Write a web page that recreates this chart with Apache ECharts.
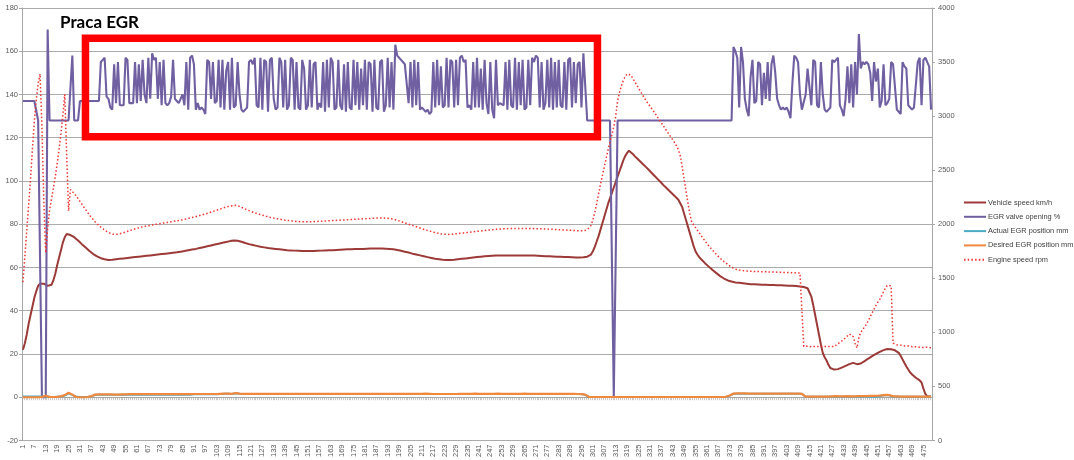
<!DOCTYPE html>
<html>
<head>
<meta charset="utf-8">
<script src="https://cdn.jsdelivr.net/npm/echarts@6.0.0/dist/echarts.min.js"></script>
<style>
html,body{margin:0;padding:0;background:#fff;}
#c{width:1074px;height:460px;}
</style>
</head>
<body>
<div id="c"></div>
<script>
// ---------------- DATA ----------------
const titleText = 'Praca EGR';
const seriesNames = ['Vehicle speed km/h', 'EGR valve opening %', 'Actual EGR position mm', 'Desired EGR position mm', 'Engine speed rpm'];
const sampleCount = 479;
const categories = Array.from({length: sampleCount}, (_, k) => String(k + 1));
const leftTicks = {min: -20, max: 180, step: 20};
const rightTicks = {min: 0, max: 4000, step: 500};

const vehicleSpeed = [
22,25,29,34,38,42,46,49,51.5,52.5,
52.5,52.5,52,51.5,51,52,
54,57,61,64.5,68,71.5,74,75.5,
75.3,75,74.6,74,73.3,72.5,71.7,70.8,70,69.2,68.4,67.6,66.9,66.2,65.6,65.1,64.7,64.3,64,63.8,63.6,63.5,63.5,
63.6,63.7,63.8,63.9,64.0,64.1,64.2,64.3,64.4,64.5,64.6,64.7,64.8,64.9,65.0,65.1,65.2,65.3,65.4,65.5,65.6,65.7,65.8,65.9,66.0,66.1,66.2,66.3,66.4,66.5,66.6,66.7,66.8,66.9,67.0,67.2,67.3,67.5,67.6,67.8,68.0,68.1,68.3,68.5,68.6,68.8,69.0,69.2,69.4,69.6,69.8,70.0,70.2,70.4,70.6,70.8,71.0,71.2,71.4,71.6,71.8,72.0,72.2,72.4,72.5,72.6,
72.4,72.2,71.9,71.6,71.3,71.0,70.8,70.6,70.4,70.2,70.0,69.8,69.6,69.5,69.3,69.2,69.0,68.9,68.8,68.7,68.6,68.5,68.4,68.3,68.2,68.1,68.0,68.0,67.9,67.8,67.8,67.7,67.7,67.6,67.6,67.6,67.6,67.6,67.6,67.6,67.6,67.7,67.7,67.7,
67.8,67.8,67.9,67.9,68.0,68.0,68.0,68.1,68.1,68.2,68.2,68.2,68.3,68.3,68.4,68.4,68.4,68.5,68.5,68.5,68.6,68.6,68.6,68.7,68.7,68.7,68.8,68.8,68.8,68.8,68.8,68.8,68.8,68.8,68.7,68.7,68.6,68.5,68.4,68.3,68.1,67.9,67.7,
67.5,67.3,67.1,66.9,66.6,66.4,66.2,66.0,65.8,65.6,65.4,65.2,65.0,64.8,64.6,64.4,64.2,64.0,63.9,63.8,63.7,63.6,63.5,63.5,63.5,63.5,
63.6,63.6,63.7,63.8,63.9,64.0,64.1,64.2,64.3,64.4,64.5,64.6,64.7,64.8,64.9,65.0,65.1,65.2,65.3,65.3,65.4,65.4,65.5,65.5,65.5,65.5,65.5,65.5,65.5,
65.5,65.5,65.5,65.5,65.5,65.5,65.5,65.5,65.5,65.5,65.5,65.5,65.5,65.5,65.5,
65.4,65.4,65.3,65.3,65.3,65.2,65.2,65.2,65.1,65.1,65.1,65.0,65.0,65.0,65.0,
64.9,64.9,64.8,64.8,64.7,64.7,64.6,64.6,64.6,64.6,64.7,64.8,65.0,65.3,
66.0,67.5,69.5,72.0,74.5,77.5,80.5,83.5,86.5,89.5,92.0,94.5,97.0,99.5,102.0,104.5,107.0,109.5,111.5,113.0,114.0,
113.5,112.5,111.5,110.6,109.8,109.0,108.1,107.2,106.4,105.5,104.6,103.7,102.8,101.9,101.0,100.1,99.2,98.2,97.4,96.5,95.7,94.8,94.0,93.1,92.2,91.3,90.5,88.0,85.0,82.0,
79.0,76.0,73.0,70.0,67.5,66.0,
64.8,63.8,62.9,62.0,61.2,60.4,59.6,58.8,58.1,57.4,56.7,56.0,55.4,54.9,54.4,54.0,53.7,53.5,53.3,
53.1,53.0,52.9,52.8,52.7,52.6,52.5,52.4,52.3,52.2,52.2,52.1,52.1,52.0,52.0,52.0,52.0,52.0,51.9,51.9,51.9,51.9,51.8,51.8,51.8,51.7,51.7,51.7,51.6,51.6,51.5,51.5,51.4,51.3,51.2,51.1,51.0,50.8,50.4,49.5,
46.5,42.5,38.0,33.5,29.0,24.5,20.5,18.5,17.0,15.0,13.5,13.0,12.8,12.8,13.0,13.3,
13.7,14.1,14.5,14.9,15.3,15.7,15.9,15.6,15.3,15.3,15.6,16.1,16.7,17.3,17.9,18.5,19.0,19.5,20.0,20.5,21.0,21.4,21.8,22.1,22.3,22.3,22.2,22.0,21.7,21.2,20.5,19.2,17.5,15.8,14.2,12.8,11.5,10.5,9.7,9.0,8.4,7.8,6.8,4.0,1.5,0.5,0.3,0.3
];

const egrValve = [
137,137,137,137,137,137,137,137,128,128,0,0,0,170,
128,128,128,128,128,128,128,128,128,128,128,128,
158,128,128,128,
137,137,137,137,137,137,137,137,137,137,
137,155,156,157,139,138,134,133,154,136,155,135,135,135,157,156,136,136,136,155,
136,154,137,156,140,136,157,138,159,156,157,138,155,135,156,136,135,136,139,156,
138,137,136,138,140,135,155,133,157,158,154,133,136,133,134,133,131,156,155,138,
155,136,137,156,134,156,133,151,155,133,157,134,135,155,140,133,132,133,134,155,
156,154,157,135,134,157,133,156,155,132,156,157,138,133,134,157,155,134,156,133,
135,157,156,133,155,134,133,156,152,133,135,156,134,154,155,133,136,134,155,132,
156,134,157,155,133,134,156,135,133,154,132,155,134,133,156,135,155,133,152,135,
156,133,155,154,132,156,134,133,155,156,132,135,157,134,155,133,163,158,157,156,
155,154,154,136,155,134,156,135,155,133,134,133,132,133,131,132,155,134,156,135,
153,134,135,157,134,156,155,134,156,135,157,158,155,156,134,135,133,155,134,157,
134,152,133,156,136,131,155,133,129,156,135,136,136,135,155,133,156,135,134,157,
133,155,135,156,133,134,156,135,157,155,158,157,134,155,133,136,156,134,157,133,
155,134,156,135,134,155,133,156,157,134,155,136,154,155,134,159,159,
128,128,128,128,128,128,128,128,128,128,128,128,128,128,
0,0,
128,128,128,128,128,128,128,128,128,128,
128,128,128,128,128,128,128,128,128,128,
128,128,128,128,128,128,128,128,128,128,
128,128,128,128,128,128,128,128,128,128,
128,128,128,128,128,128,128,128,128,128,
128,128,128,128,128,128,128,128,128,128,
128,
162,160,157,134,162,155,138,133,130,148,156,136,137,155,154,135,150,138,155,137,
154,158,150,138,135,133,134,133,134,132,129,145,158,157,155,140,133,133,140,152,
152,135,156,155,135,134,155,140,133,132,133,134,156,155,156,157,135,133,130,138,
153,136,154,134,155,140,168,152,155,154,155,154,150,137,155,146,152,134,137,154,
135,136,138,155,154,154,133,132,131,155,153,152,135,134,133,134,134,155,157,135,
156,157,155,153,133
];

const actualEgr = [
0.3,0.3,0.3,0.3,0.3,0.3,0.3,0.3,0.3,0.3,0.3,
0.4,0.4,0.3,0.2,0.1,
0.1,0.1,0.2,0.2,0.3,0.5,0.8,1.3,
1.8,1.8,1.1,0.4,0.2,0.1,
0.1,0.1,0.1,0.1,0.1,0.2,0.4,
0.8,1.1,1.2,1.2,1.2,
1.2,1.2,1.2,1.2,1.2,1.2,1.2,1.2,1.2,1.2,1.2,1.2,1.2,1.2,1.2,1.2,1.2,1.2,1.2,1.2,1.2,1.2,1.2,1.2,
1.2,1.2,1.2,1.2,1.2,1.2,1.2,1.2,1.2,1.2,1.2,1.2,1.2,1.2,1.2,1.2,1.2,1.2,1.2,1.2,1.2,1.2,1.2,1.2,
1.4,1.4,1.4,1.4,1.4,1.4,1.4,1.4,1.4,1.4,1.4,1.4,1.4,1.4,
1.5,1.5,1.6,1.7,1.6,1.5,1.5,1.7,1.8,1.7,1.6,1.5,
1.5,1.5,1.5,1.5,1.5,1.5,1.5,1.5,1.5,
1.5,1.5,1.5,1.5,1.5,1.5,1.5,1.5,1.5,1.5,1.5,1.5,1.5,1.5,1.5,1.5,1.5,1.5,1.5,1.5,
1.5,1.5,1.5,1.5,1.5,1.5,1.5,1.5,1.5,1.5,1.5,1.5,1.5,1.5,1.5,1.5,1.5,1.5,1.5,1.5,
1.5,1.5,1.5,1.5,1.5,1.5,1.5,1.5,1.5,1.5,1.5,1.5,1.5,1.5,1.5,1.5,1.5,1.5,1.5,1.5,
1.5,1.5,1.5,1.5,1.5,1.5,1.5,1.5,1.5,1.5,1.5,1.5,1.5,1.5,1.5,1.5,1.5,1.5,1.5,1.5,
1.5,1.5,1.5,1.5,1.5,1.5,1.5,1.5,1.5,1.5,1.5,1.5,1.5,1.5,1.5,1.5,1.5,1.5,1.5,1.5,
1.5,1.5,1.5,1.5,1.5,1.5,1.5,1.5,1.5,1.5,1.5,1.5,1.5,1.5,1.5,1.5,1.5,1.5,1.5,1.5,
1.5,1.5,1.5,1.5,1.5,1.5,1.5,1.5,1.5,1.5,1.5,1.5,1.5,1.5,1.5,1.5,1.5,1.5,1.5,1.5,
1.5,1.5,1.5,1.5,1.5,1.5,1.5,1.5,1.5,1.5,1.5,1.5,1.5,1.5,1.5,1.5,1.5,1.5,1.5,1.5,
1.5,1.5,1.5,1.5,1.5,1.5,1.5,1.5,1.5,1.5,
1.2,1.1,
0.4,
0.1,0.1,0.1,0.1,0.1,0.1,0.1,0.1,0.1,0.1,0.1,0.1,0.1,0.1,0.1,0.1,0.1,0.1,0.1,0.1,
0.1,0.1,0.1,0.1,0.1,0.1,0.1,0.1,0.1,0.1,0.1,0.1,0.1,0.1,0.1,0.1,0.1,0.1,0.1,0.1,
0.1,0.1,0.1,0.1,0.1,0.1,0.1,0.1,0.1,0.1,0.1,0.1,0.1,0.1,0.1,0.1,0.1,0.1,0.1,0.1,
0.1,0.1,0.1,0.1,0.1,0.1,0.1,0.1,0.1,0.1,0.1,0.1,0.1,0.1,
0.7,1.3,
1.6,1.6,1.6,1.6,1.6,1.6,1.6,1.6,1.6,1.6,1.6,1.6,1.6,1.6,1.6,1.6,1.6,1.6,1.6,1.6,
1.6,1.6,1.6,1.6,1.6,1.6,1.6,1.6,1.6,1.6,1.6,1.6,1.6,1.6,1.6,1.6,1.6,
0.7,
0.2,0.2,0.2,0.2,0.2,0.2,0.2,0.2,0.2,0.2,0.2,0.2,0.2,0.2,0.2,0.2,0.2,0.2,0.2,0.2,
0.2,0.2,0.2,0.2,0.2,0.2,0.2,0.2,0.2,0.2,0.2,0.2,0.2,0.2,0.2,0.2,0.2,0.2,0.2,0.2,
0.7,0.9,1.0,1.0,0.9,0.4,
0.2,0.2,0.2,0.2,0.2,0.2,0.2,0.2,0.2,0.2,0.2,0.2,0.2,0.2,0.2,0.2,0.2,0.2,0.2,0.2,0.2
];

const desiredEgr = [
0,0,0,0,0,0,0,0,0,0,0.2,
0.5,0.6,0.4,0.2,0,
0.1,0.2,0.2,0.3,0.4,0.6,1.0,1.6,
2.1,2.0,1.2,0.4,0.1,0,
0,0.1,0,0,0.1,0.2,0.5,
0.9,1.2,1.3,1.3,1.3,
1.3,1.3,1.3,1.3,1.3,1.3,1.2,1.2,1.2,1.3,
1.3,1.3,1.3,1.4,1.4,1.4,1.4,1.4,1.4,1.4,
1.4,1.4,1.4,1.4,1.4,1.4,1.4,1.4,1.4,1.4,
1.4,1.4,1.4,1.4,1.4,1.4,1.4,1.4,1.4,1.4,
1.4,1.4,1.4,1.4,1.4,1.4,1.4,1.4,
1.5,1.5,1.5,1.5,1.5,1.5,1.5,1.5,1.5,1.5,
1.5,1.5,1.5,1.5,1.6,1.6,1.7,1.8,1.7,1.6,
1.6,1.8,1.9,1.8,1.7,1.6,1.6,1.6,1.6,1.6,
1.6,1.6,1.6,1.6,1.6,
1.6,1.6,1.6,1.6,1.6,1.6,1.6,1.6,1.6,1.6,
1.6,1.6,1.6,1.6,1.6,1.6,1.6,1.6,1.6,1.6,
1.6,1.6,1.6,1.6,1.6,1.6,1.6,1.6,1.6,1.6,
1.6,1.6,1.6,1.6,1.6,1.6,1.6,1.6,1.6,1.6,
1.6,1.6,1.6,1.6,1.6,1.6,1.6,1.6,1.6,1.6,
1.6,1.6,1.6,1.6,1.6,1.6,1.6,1.6,1.6,1.6,
1.6,1.6,1.6,1.6,1.6,1.6,1.6,1.6,1.6,1.6,
1.6,1.6,1.6,1.6,1.6,1.6,1.6,1.6,1.6,1.6,
1.6,1.6,1.6,1.6,1.6,1.6,1.7,1.7,1.6,1.6,
1.5,1.5,1.5,1.5,1.5,1.5,1.5,1.5,1.5,1.5,
1.5,1.5,1.5,1.5,1.6,1.6,1.6,1.6,1.6,1.6,
1.6,1.6,1.6,1.7,1.7,1.6,1.6,1.6,1.6,1.6,
1.6,1.6,1.6,1.6,1.6,1.7,1.7,1.6,1.6,1.6,
1.6,1.6,1.6,1.6,1.6,1.6,1.6,1.6,1.7,1.7,
1.7,1.6,1.6,1.6,1.6,1.6,1.6,1.6,1.6,1.6,
1.6,1.6,1.6,1.6,1.6,1.6,1.6,1.6,1.6,1.6,
1.6,1.6,1.6,1.6,1.6,1.6,1.5,1.5,1.5,1.4,
1.3,1.2,
0.5,
0.1,0.1,0.1,0.1,0.1,0.1,0.1,0.1,0.1,0.1,
0.1,0.1,0.1,0.1,0.1,0.1,0.1,0.1,0.1,0.1,
0.1,0.1,0.1,0.1,0.1,0.1,0.1,0.1,0.1,0.1,
0.1,0.1,0.1,0.1,0.1,0.1,0.1,0.1,0.1,0.1,
0.1,0.1,0.1,0.1,0.1,0.1,0.1,0.1,0.1,0.1,
0.1,0.1,0.1,0.1,0.1,0.1,0.1,0.1,0.1,0.1,
0.1,0.1,0.1,0.1,0.1,0.1,0.1,0.1,0.1,0.1,
0.1,0.1,0.2,0.3,
0.8,1.4,
1.7,1.8,1.8,1.8,1.8,1.8,1.8,1.7,1.7,1.7,
1.7,1.7,1.7,1.7,1.7,1.7,1.7,1.7,1.7,1.7,
1.7,1.7,1.7,1.7,1.7,1.7,1.7,1.7,1.7,1.7,
1.7,1.7,1.7,1.7,1.7,1.6,1.6,
0.8,
0.3,0.3,0.3,0.3,0.3,0.3,0.3,0.3,0.3,0.3,
0.3,0.3,0.3,0.3,0.4,0.4,0.5,0.4,0.4,0.4,
0.4,0.5,0.5,0.5,0.4,0.4,0.4,0.5,0.5,0.5,
0.5,0.5,0.5,0.6,0.6,0.6,0.6,0.7,0.7,0.8,
0.9,1.0,1.1,1.1,1.0,0.5,0.4,0.4,0.4,0.3,
0.3,0.3,0.3,0.3,0.3,0.3,0.3,0.3,0.3,0.3,
0.3,0.3,0.3,0.3,0.3,0.3,0.3
];

const engineRpm = [
1465,1700,1940,2180,2420,2700,2950,3150,3300,3390,
2900,2200,1735,1960,2130,2230,2330,2440,2560,2690,2840,3010,3200,2650,2124,
2320,2305,2285,2262,2238,2212,2186,2160,2135,2110,2086,2064,2043,2023,2005,1988,1972,1958,1945,1934,1924,1916,1910,1906,1904,
1908,1912,1917,1922,1928,1934,1940,1946,1952,1958,1963,1968,1972,1976,1980,1984,1987,1990,1993,1996,1999,2002,2005,2008,2011,2014,2017,2020,2023,2026,2029,2032,2035,2038,2042,2046,2050,2054,2058,2062,2066,2070,2075,2080,2085,2090,2095,2100,2106,2112,2118,2124,2130,2136,2142,2148,2154,2159,2164,2168,2171,2173,2175,
2172,2165,2157,2149,2141,2133,2126,2119,2112,2106,2100,2094,2089,2084,2079,2074,2069,2065,2061,2057,2053,2050,2047,2044,2041,2038,2036,2034,2032,2030,2028,2026,2025,2024,2023,2022,2022,2022,2022,2023,2024,2025,2026,2027,
2028,2029,2030,2031,2032,2033,2034,2035,2036,2037,2038,2039,2040,2041,2042,2043,2044,2045,2046,2047,2048,2049,2050,2051,2052,2053,2054,2055,2056,2057,2058,2058,2058,2057,2056,2055,2053,2050,2046,2042,2037,2031,2025,
2019,2013,2007,2001,1995,1989,1983,1977,1971,1965,1959,1953,1947,1942,1937,1932,1927,1923,1919,1915,1912,1909,1907,1906,1906,1906,
1908,1910,1912,1914,1916,1918,1920,1922,1924,1926,1928,1930,1932,1934,1936,1938,1940,1942,1944,1946,1948,1950,1952,1954,1955,1956,1957,1958,1959,
1960,1960,1960,1960,1960,1960,1960,1960,1960,1960,1960,1960,1960,1960,1960,
1959,1958,1958,1957,1956,1955,1955,1954,1953,1952,1952,1951,1950,1949,1948,
1947,1946,1945,1944,1943,1942,1941,1940,1940,1940,1941,1943,1950,1965,
1990,2040,2110,2190,2280,2370,2450,2530,2610,2690,2760,2830,2900,3000,3140,3220,3280,3330,3365,3390,3398,
3380,3350,3320,3290,3260,3230,3200,3170,3143,3118,3093,3068,3043,3018,2992,2964,2938,2912,2886,2860,2834,2808,2782,2755,2725,2690,2634,
2530,2420,2310,2200,2100,2020,1995,
1970,1945,1920,1895,1870,1845,1822,1800,1780,1760,1740,1720,1702,1686,1670,1655,1641,1628,1615,1602,1592,
1585,1580,1576,1573,1571,1569,1567,1566,1565,1564,1563,1562,1562,1561,1561,1561,1560,1560,1559,1559,1558,1557,1557,1556,1555,1555,1554,1553,1553,1552,1551,1551,1550,1550,1549,1548,
870,868,872,870,866,868,870,872,868,866,870,872,869,866,870,872,868,870,895,910,
920,935,950,965,985,1000,960,900,855,950,1000,1025,1050,1076,1110,1145,1180,1215,1250,1280,1305,1340,1375,1410,1435,1440,1430,900,890,885,880,882,878,875,872,875,870,868,866,868,865,862,864,860,858,862,860,858
];

// annotation box (in data units: category index from 0, left-axis values)
const egrBox = {fromIndex: 32.9, toIndex: 302.4, top: 166, bottom: 120.5};

// ---------------- CHART ----------------
const chart = echarts.init(document.getElementById('c'), null, {renderer: 'canvas'});
const gridColor = '#ABABAB';
const axisTextColor = '#595959';
const font = 'Liberation Sans';

const mkLine = (name, data, color, width, axis, dash) => ({
  name, type: 'line', data, yAxisIndex: axis,
  symbol: 'none', showSymbol: false, smooth: false,
  lineStyle: {color, width, type: dash || 'solid'},
  itemStyle: {color},
  emphasis: {disabled: true},
  z: 2
});

chart.setOption({
  animation: false,
  backgroundColor: '#fff',
  title: {
    text: titleText, left: 60, top: 14, padding: 0,
    textStyle: {fontFamily: 'Lato', fontWeight: 'bold', fontSize: 17, color: '#000'}
  },
  legend: {
    orient: 'vertical', left: 963, top: 198.5, padding: 0,
    itemWidth: 22, itemHeight: 8, itemGap: 6.3,
    itemStyle: {opacity: 0},
    textStyle: {fontFamily: font, fontSize: 7.4, lineHeight: 8, color: '#404040', padding: [0, 0, 0, -3]},
    data: seriesNames
  },
  grid: {left: 22, right: 142, top: 8, bottom: 7, containLabel: false},
  xAxis: {
    type: 'category', data: categories, boundaryGap: true,
    axisLine: {onZero: true, lineStyle: {color: '#A6A6A6', width: 1}},
    axisTick: {show: true, interval: 0, length: 3, lineStyle: {color: '#A6A6A6', width: 0.6}},
    axisLabel: {interval: 5, rotate: 90, margin: 4, fontFamily: font, fontSize: 7.5, color: axisTextColor},
    splitLine: {show: false}
  },
  yAxis: [
    {
      type: 'value', min: leftTicks.min, max: leftTicks.max, interval: leftTicks.step,
      axisLine: {show: true, lineStyle: {color: '#A6A6A6'}},
      axisTick: {show: true, length: 3, lineStyle: {color: '#A6A6A6'}},
      axisLabel: {margin: 4, fontFamily: font, fontSize: 7.5, color: axisTextColor},
      splitLine: {show: true, lineStyle: {color: gridColor, width: 1}}
    },
    {
      type: 'value', min: rightTicks.min, max: rightTicks.max, interval: rightTicks.step,
      position: 'right',
      axisLine: {show: true, lineStyle: {color: '#A6A6A6'}},
      axisTick: {show: true, length: 3, lineStyle: {color: '#A6A6A6'}},
      axisLabel: {margin: 6, fontFamily: font, fontSize: 7.5, color: axisTextColor, formatter: v => String(v)},
      splitLine: {show: false}
    }
  ],
  series: [
    mkLine(seriesNames[0], vehicleSpeed, '#9C3A38', 2, 0),
    mkLine(seriesNames[1], egrValve, '#7060A2', 2.1, 0),
    mkLine(seriesNames[2], actualEgr, '#4BACC6', 2, 0),
    mkLine(seriesNames[3], desiredEgr, '#F0883E', 2.2, 0),
    mkLine(seriesNames[4], engineRpm, '#F0342F', 1.5, 1, [1.5, 2.2])
  ]
});

// red annotation rectangle placed through the chart's own scales
const x0 = chart.convertToPixel({xAxisIndex: 0}, categories[0]);
const x1 = chart.convertToPixel({xAxisIndex: 0}, categories[sampleCount - 1]);
const pxAt = f => x0 + (x1 - x0) * f / (sampleCount - 1);
const yTop = chart.convertToPixel({yAxisIndex: 0}, egrBox.top);
const yBot = chart.convertToPixel({yAxisIndex: 0}, egrBox.bottom);
chart.setOption({
  graphic: [{
    type: 'rect', z: 100,
    shape: {x: pxAt(egrBox.fromIndex), y: yTop, width: pxAt(egrBox.toIndex) - pxAt(egrBox.fromIndex), height: yBot - yTop},
    style: {fill: 'none', stroke: '#FF0000', lineWidth: 7.5}
  }]
});
</script>
</body>
</html>
